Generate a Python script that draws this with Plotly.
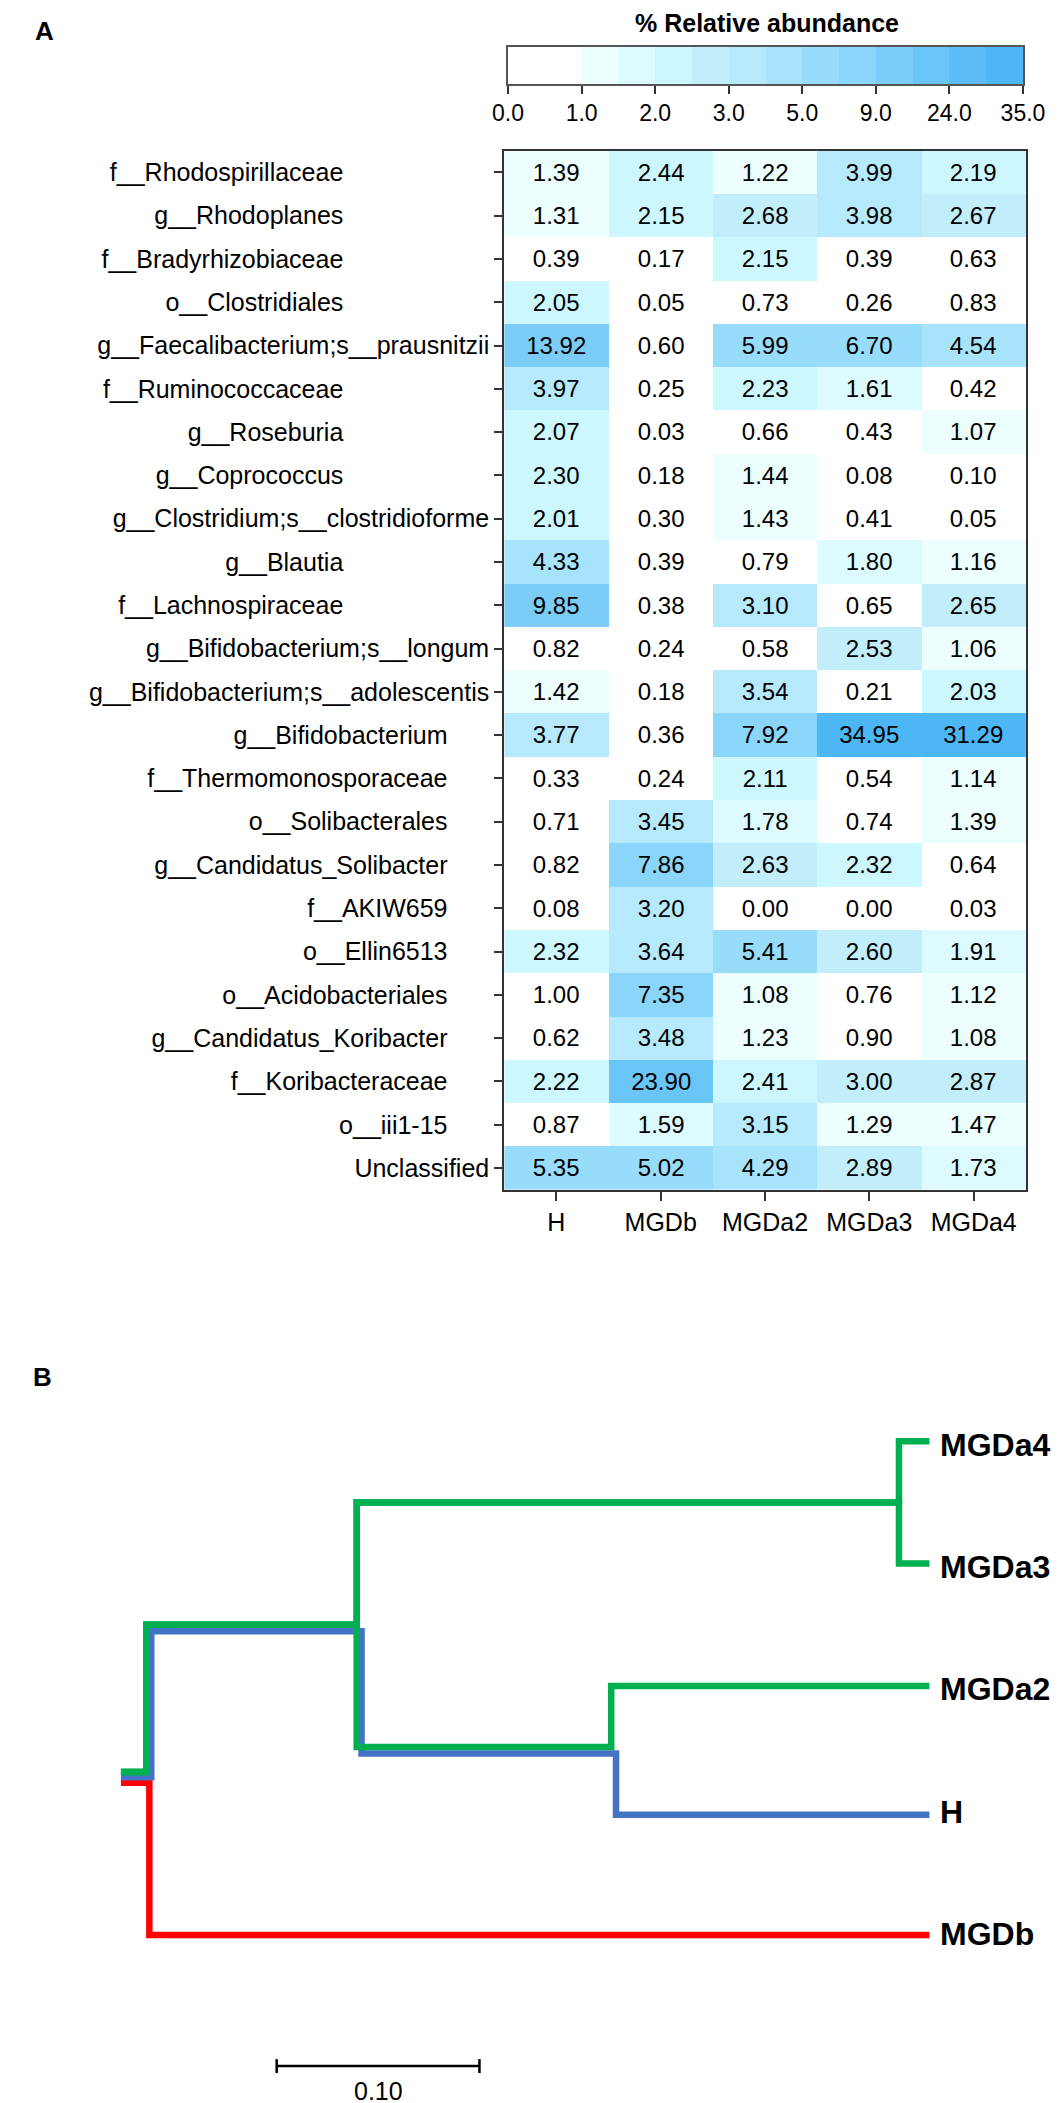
import plotly.graph_objects as go

# ---------------- panel A: heatmap ----------------
taxa = [
    "f__Rhodospirillaceae", "g__Rhodoplanes", "f__Bradyrhizobiaceae", "o__Clostridiales",
    "g__Faecalibacterium;s__prausnitzii", "f__Ruminococcaceae", "g__Roseburia", "g__Coprococcus",
    "g__Clostridium;s__clostridioforme", "g__Blautia", "f__Lachnospiraceae",
    "g__Bifidobacterium;s__longum", "g__Bifidobacterium;s__adolescentis", "g__Bifidobacterium",
    "f__Thermomonosporaceae", "o__Solibacterales", "g__Candidatus_Solibacter", "f__AKIW659",
    "o__Ellin6513", "o__Acidobacteriales", "g__Candidatus_Koribacter", "f__Koribacteraceae",
    "o__iii1-15", "Unclassified",
]
samples = ["H", "MGDb", "MGDa2", "MGDa3", "MGDa4"]

H = [1.39, 1.31, 0.39, 2.05, 13.92, 3.97, 2.07, 2.30, 2.01, 4.33, 9.85, 0.82,
     1.42, 3.77, 0.33, 0.71, 0.82, 0.08, 2.32, 1.00, 0.62, 2.22, 0.87, 5.35]
MGDb = [2.44, 2.15, 0.17, 0.05, 0.60, 0.25, 0.03, 0.18, 0.30, 0.39, 0.38, 0.24,
        0.18, 0.36, 0.24, 3.45, 7.86, 3.20, 3.64, 7.35, 3.48, 23.90, 1.59, 5.02]
MGDa2 = [1.22, 2.68, 2.15, 0.73, 5.99, 2.23, 0.66, 1.44, 1.43, 0.79, 3.10, 0.58,
         3.54, 7.92, 2.11, 1.78, 2.63, 0.00, 5.41, 1.08, 1.23, 2.41, 3.15, 4.29]
MGDa3 = [3.99, 3.98, 0.39, 0.26, 6.70, 1.61, 0.43, 0.08, 0.41, 1.80, 0.65, 2.53,
         0.21, 34.95, 0.54, 0.74, 2.32, 0.00, 2.60, 0.76, 0.90, 3.00, 1.29, 2.89]
MGDa4 = [2.19, 2.67, 0.63, 0.83, 4.54, 0.42, 1.07, 0.10, 0.05, 1.16, 2.65, 1.06,
         2.03, 31.29, 1.14, 1.39, 0.64, 0.03, 1.91, 1.12, 1.08, 2.87, 1.47, 1.73]

# colour classes of the key (right-closed intervals, like R's cut())
color_breaks = [0, 0.5, 1, 1.5, 2, 2.5, 3, 4, 5, 7, 9, 16.5, 24, 29.5, 35]
bin_colors = ["#FFFFFF", "#FFFFFF", "#EDFEFF", "#DDFBFF", "#CDF7FE", "#C2EDFB", "#B6E9FC",
              "#A8E3FC", "#98DCFB", "#8AD5FA", "#7BCDF8", "#6AC5F7", "#5CBDF6", "#4DB6F4"]

# ---------------- panel B: cluster tree ----------------
leaves = ["MGDa4", "MGDa3", "MGDa2", "H", "MGDb"]
leaf_colors = ["#00B050", "#00B050", "#00B050", "#4472C4", "#FF0000"]
# (child, child, height); ints refer to earlier merges
merges = [("MGDa4", "MGDa3", 0.0136), ("MGDa2", "H", 0.1555), (0, 1, 0.281), (2, "MGDb", 0.3847)]
root_stub = 0.014
scale_len = 0.10

FONT = "Liberation Sans, Arial, sans-serif"
W, HGT = 1063, 2103


def color_class(v):
    for i in range(len(color_breaks) - 1):
        if v <= color_breaks[i + 1]:
            return i
    return len(color_breaks) - 2


n_bins = len(bin_colors)
colorscale = []
for i, c in enumerate(bin_colors):
    colorscale += [[i / n_bins, c], [(i + 1) / n_bins, c]]

rows = list(zip(H, MGDb, MGDa2, MGDa3, MGDa4))
z = [[color_class(v) + 0.5 for v in r] for r in rows]
txt = [[f"{v:.2f}" for v in r] for r in rows]

# the row labels in the source are not flush with the axis: pad them the same way
label_pad = [21, 21, 21, 21, 0, 21, 21, 21, 0, 21, 21, 0, 0, 6, 6, 6, 6, 6, 6, 6, 6, 6, 6, 0]
row_labels = [t + "\u00a0" * p for t, p in zip(taxa, label_pad)]

fig = go.Figure()

fig.add_trace(go.Heatmap(
    z=z, x=list(range(len(samples))), y=list(range(len(taxa))),
    text=txt, texttemplate="%{text}", textfont=dict(size=24, color="black", family=FONT),
    colorscale=colorscale, zmin=0, zmax=n_bins, showscale=False, hoverinfo="skip",
    xaxis="x", yaxis="y",
))

# colour key drawn as its own one-row heatmap
fig.add_trace(go.Heatmap(
    z=[[i + 0.5 for i in range(n_bins)]], x=[i + 0.5 for i in range(n_bins)], y=[0],
    colorscale=colorscale, zmin=0, zmax=n_bins, showscale=False, hoverinfo="skip",
    xaxis="x2", yaxis="y2",
))

# ---- tree geometry ----
heights = {name: 0.0 for name in leaves}
ypos = {name: i for i, name in enumerate(leaves)}
parent = {}
for k, (a, b, h) in enumerate(merges):
    heights[k] = h
    ypos[k] = (ypos[a] + ypos[b]) / 2
    parent[a] = k
    parent[b] = k
root = len(merges) - 1

PX_X = 2103.0   # px per unit of height
PX_Y = 122.3    # px per leaf step
# coloured lineages are drawn side by side, a few px apart
offsets = {"#00B050": (-3.0, -3.5), "#4472C4": (2.0, 3.0), "#FF0000": (0.0, 1.0)}
stub_dy = {"#00B050": -9.0, "#4472C4": -4.0, "#FF0000": 1.5}

draw_order = sorted(range(len(leaves)), key=lambda i: ["#FF0000", "#4472C4", "#00B050"].index(leaf_colors[i]))
for i in draw_order:
    leaf = leaves[i]
    col = leaf_colors[i]
    chain = [leaf]
    while chain[-1] in parent:
        chain.append(parent[chain[-1]])
    chain = chain[::-1]
    dx, dy = offsets[col]
    xs, ys = [], []
    for node, child in zip(chain[:-1], chain[1:]):
        xs += [heights[node], heights[child]]
        ys += [ypos[child], ypos[child]]
    xs = [x - dx / PX_X if x > 0 else x for x in xs]
    ys = [y + dy / PX_Y for y in ys]
    # root stub and its join onto the first vertical
    y_stub = ypos[root] + stub_dy[col] / PX_Y
    xs = [heights[root] + root_stub, xs[0]] + xs
    ys = [y_stub, y_stub] + ys
    fig.add_trace(go.Scatter(
        x=xs, y=ys, mode="lines", line=dict(color=col, width=6.5),
        hoverinfo="skip", showlegend=False, xaxis="x3", yaxis="y3",
    ))

# scale bar
sb_x0 = 0.3219
sb_y = 5.08
fig.add_trace(go.Scatter(
    x=[sb_x0, sb_x0, None, sb_x0, sb_x0 - scale_len, None, sb_x0 - scale_len, sb_x0 - scale_len],
    y=[sb_y - 0.057, sb_y + 0.057, None, sb_y, sb_y, None, sb_y - 0.057, sb_y + 0.057],
    mode="lines", line=dict(color="black", width=2.5), hoverinfo="skip", showlegend=False,
    xaxis="x3", yaxis="y3",
))

annotations = []
for i, name in enumerate(leaves):
    annotations.append(dict(
        x=0, y=i, xref="x3", yref="y3", text=f"<b>{name}</b>", showarrow=False,
        xanchor="left", yanchor="middle", xshift=9,
        font=dict(size=32, color="black", family=FONT),
    ))
annotations.append(dict(
    x=sb_x0 - scale_len / 2, y=5.285, xref="x3", yref="y3", text=f"{scale_len:.2f}",
    showarrow=False, xanchor="center", yanchor="middle", font=dict(size=25, color="black", family=FONT),
))
annotations.append(dict(
    x=771 / W, y=1 - 15 / HGT, xref="paper", yref="paper", text="<b>% Relative abundance</b>",
    showarrow=False, xanchor="center", yanchor="middle", font=dict(size=25, color="black", family=FONT),
))
annotations.append(dict(
    x=9 / W, y=1 - 23 / HGT, xref="paper", yref="paper", text="<b>A</b>",
    showarrow=False, xanchor="left", yanchor="middle", font=dict(size=26, color="black", family=FONT),
))
annotations.append(dict(
    x=7 / W, y=1 - 1369 / HGT, xref="paper", yref="paper", text="<b>B</b>",
    showarrow=False, xanchor="left", yanchor="middle", font=dict(size=26, color="black", family=FONT),
))

key_ticks = list(range(0, n_bins + 1, 2))
key_text = [f"{color_breaks[k]:.1f}" for k in key_ticks]

fig.update_layout(
    width=W, height=HGT,
    margin=dict(l=0, r=0, t=0, b=0),
    paper_bgcolor="white", plot_bgcolor="white",
    font=dict(family=FONT, color="black"),
    showlegend=False,
    annotations=annotations,
    xaxis=dict(
        domain=[498 / W, 1039 / W], anchor="y", range=[-0.5, len(samples) - 0.5],
        tickvals=list(range(len(samples))), ticktext=samples,
        ticks="outside", ticklen=9, tickwidth=1.5, tickcolor="#333",
        showline=True, mirror=True, linecolor="#333", linewidth=2,
        showgrid=False, zeroline=False, tickfont=dict(size=25, color="black"),
    ),
    yaxis=dict(
        domain=[1 - 1181.7 / HGT, 1 - 142.7 / HGT], anchor="x", range=[len(taxa) - 0.5, -0.5],
        tickvals=list(range(len(taxa))), ticktext=row_labels,
        ticks="outside", ticklen=8, tickwidth=1.5, tickcolor="#333",
        showline=True, mirror=True, linecolor="#333", linewidth=2,
        showgrid=False, zeroline=False, tickfont=dict(size=25, color="black"),
    ),
    xaxis2=dict(
        domain=[502 / W, 1036 / W], anchor="y2", range=[0, n_bins],
        tickvals=key_ticks, ticktext=key_text,
        ticks="outside", ticklen=8, tickwidth=1.5, tickcolor="#333",
        showline=True, mirror=True, linecolor="#555", linewidth=1.5,
        showgrid=False, zeroline=False, tickfont=dict(size=23, color="black"),
    ),
    yaxis2=dict(
        domain=[1 - 76 / HGT, 1 - 39 / HGT], anchor="x2", range=[-0.5, 0.5],
        showticklabels=False, ticks="", showline=True, mirror=True, linecolor="#555", linewidth=1.5,
        showgrid=False, zeroline=False,
    ),
    xaxis3=dict(
        domain=[0, 1], anchor="y3", range=[939 / PX_X, -(W - 939) / PX_X],
        visible=False, showgrid=False, zeroline=False,
    ),
    yaxis3=dict(
        domain=[0, 0.4], anchor="x3", range=[(2103 - 1436.8) / PX_Y, -(1436.8 - 0.6 * HGT) / PX_Y],
        visible=False, showgrid=False, zeroline=False,
    ),
)

fig.write_html("out.html")
